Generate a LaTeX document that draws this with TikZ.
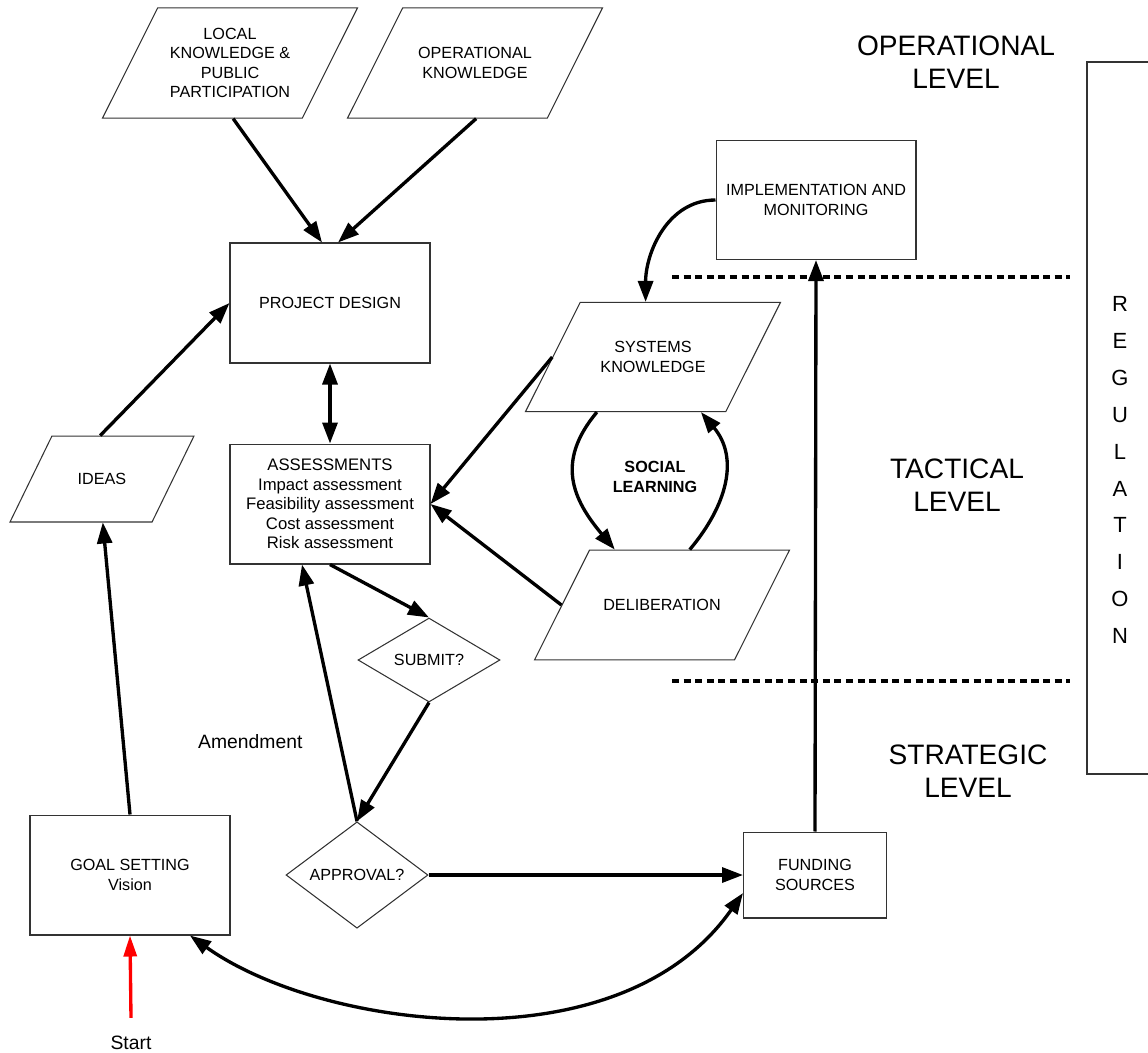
\documentclass[tikz,border=0pt]{standalone}
\usepackage{fontspec}
\setmainfont{Liberation Sans}
\usetikzlibrary{shapes.geometric, arrows.meta, positioning}

\begin{document}
\begin{tikzpicture}[
    x=0.02cm, y=0.02cm,
    block/.style={rectangle, draw=black!80, line width=0.6pt, align=center, minimum width=4cm, minimum height=2.4cm, inner sep=2pt, font=\fontsize{9.2}{11}\selectfont},
    para/.style={trapezium, trapezium left angle=63.4, trapezium right angle=116.6, trapezium stretches body, draw=black!80, line width=0.6pt, align=center, minimum width=5.1cm, inner xsep=1pt, font=\fontsize{9.2}{11}\selectfont},
    decision/.style={diamond, draw=black!80, line width=0.6pt, align=center, minimum width=2.84cm, minimum height=1.68cm, inner sep=0pt, font=\fontsize{9.2}{11}\selectfont},
    level/.style={align=center, font=\fontsize{16}{19}\selectfont},
    arrow/.style={-{Triangle[length=0.42cm, width=0.3cm]}, line width=1.9pt},
    twoway/.style={{Triangle[length=0.42cm, width=0.3cm]}-{Triangle[length=0.42cm, width=0.3cm]}, line width=1.9pt},
    startarrow/.style={-{Triangle[length=0.42cm, width=0.26cm]}, line width=1.9pt, red},
    levelline/.style={line width=2.1pt, dash pattern=on 4pt off 2.6pt}
]
    \useasboundingbox (0,0) rectangle (1148,-1052);

    % Nodes
    \node[para, inner ysep=11.6pt] (local) at (230,-63) {LOCAL\\KNOWLEDGE \&\\PUBLIC\\PARTICIPATION};
    \node[para, inner ysep=22.6pt] (operk) at (475,-63) {OPERATIONAL\\KNOWLEDGE};
    \node[block] (project) at (330,-303) {PROJECT DESIGN};
    \node[block, below=1.6cm of project, font=\fontsize{9.5}{11.1}\selectfont] (assess) {ASSESSMENTS\\Impact assessment\\Feasibility assessment\\Cost assessment\\Risk assessment};
    \node[para, trapezium left angle=64, trapezium right angle=116, minimum width=3.68cm, inner ysep=21.2pt] (ideas) at (102,-479) {IDEAS};
    \node[block] (goal) at (130,-875) {GOAL SETTING\\Vision};
    \node[font=\fontsize{11}{13}\selectfont] (start) at (131,-1043) {Start};
    \node[decision] (submit) at (429,-660) {SUBMIT?};
    \node[decision] (approval) at (357,-875) {APPROVAL?};
    \node[block, minimum width=2.86cm, minimum height=1.72cm] (funding) at (815,-875) {FUNDING\\SOURCES};
    \node[block, minimum height=2.38cm] (impl) at (816,-200) {IMPLEMENTATION AND\\MONITORING};
    \node[para, inner ysep=22.3pt] (systems) at (653,-357) {SYSTEMS\\KNOWLEDGE};
    \node[para, inner ysep=28pt] (delib) at (662,-605) {DELIBERATION};
    \node[font=\bfseries\fontsize{9.2}{11}\selectfont, align=center] (social) at (655,-477) {SOCIAL\\LEARNING};

    % Levels
    \node[level] (oplevel) at (956,-62) {OPERATIONAL\\LEVEL};
    \node[level] (taclevel) at (957,-485) {TACTICAL\\LEVEL};
    \node[level] (strlevel) at (968,-771) {STRATEGIC\\LEVEL};
    \draw[levelline] (672,-277) -- (1070,-277);
    \draw[levelline] (672,-681) -- (1070,-681);

    % Regulation
    \draw[draw=black!80, line width=0.6pt] (1170,-62) -| (1087,-774) -- (1170,-774);
    \node[font=\fontsize{12.5}{21}\selectfont, align=center] (regulation) at (1120,-470) {R\\E\\G\\U\\L\\A\\T\\I\\O\\N};

    % Paths
    \draw[arrow] ([xshift=0.62cm]local.bottom side) -- ([xshift=-0.16cm]project.north);
    \draw[arrow] ([xshift=0.58cm]operk.bottom side) -- ([xshift=0.16cm]project.north);
    \draw[twoway] (project.south) -- (assess.north);
    \draw[arrow] ([xshift=-0.46cm]ideas.top side) -- (project.west);
    \draw[arrow] (goal.north) -- ([xshift=0.44cm]ideas.bottom side);
    \draw[startarrow] ([yshift=0.24cm]start.north) -- (goal.south);
    \draw[arrow] (assess.south) -- (submit.north);
    \draw[arrow] (submit.south) -- (approval.north);
    \draw[arrow] (approval.north) -- node[pos=0.31, left=0.6cm, font=\fontsize{11}{13}\selectfont]{Amendment} ([xshift=-0.56cm]assess.south);
    \draw[arrow] (approval.east) -- (funding.west);
    \draw[arrow] (funding.north) -- (impl.south);
    \draw[arrow] (impl.west) to[out=180, in=90] ([xshift=-0.7cm]systems.top side);
    \draw[arrow] (systems.left side) -- (assess.east);
    \draw[arrow] (delib.left side) -- (assess.east);
    \draw[arrow] ([xshift=-0.57cm]systems.bottom side) to[out=-130, in=130, looseness=1.2] ([xshift=-1.5cm]delib.top side);
    \draw[arrow] (delib.top side) to[out=50, in=-50, looseness=1.1] ([xshift=1.51cm]systems.bottom side);
    \draw[twoway] ([xshift=1.2cm]goal.south) .. controls +(130,-93) and +(-124,-177) .. ([yshift=-0.36cm]funding.west);
\end{tikzpicture}
\end{document}
